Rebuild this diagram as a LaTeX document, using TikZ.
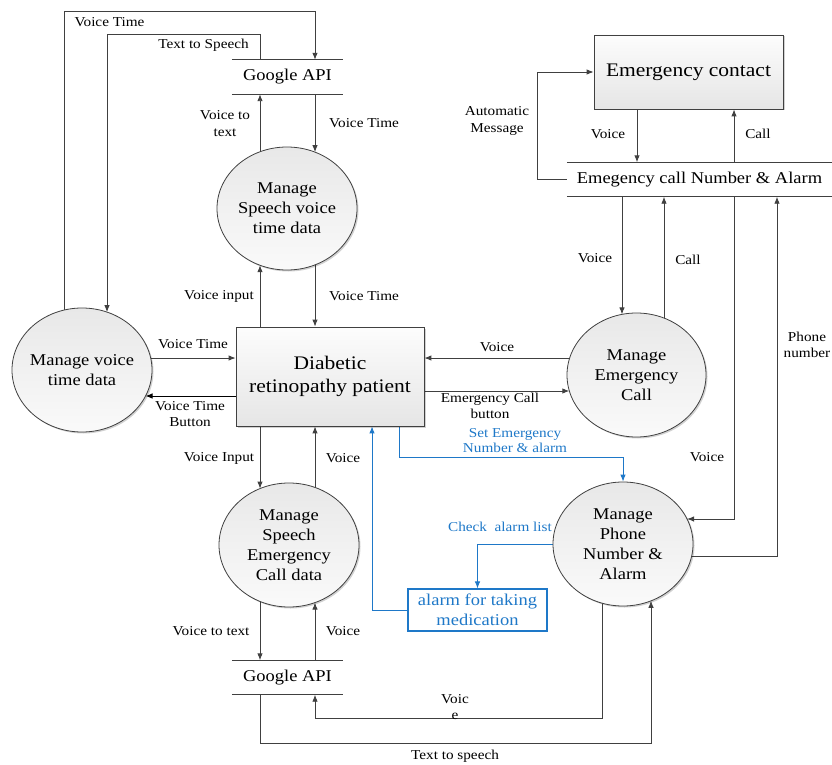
\documentclass[tikz,border=0pt]{standalone}
\usepackage{fontspec}
\setmainfont{Liberation Serif}[FakeStretch=1.12]
\usetikzlibrary{arrows.meta,shapes.geometric,calc,backgrounds,shadows}
\definecolor{ln}{HTML}{404040}
\definecolor{bl}{RGB}{30,120,200}
\begin{document}
\begin{tikzpicture}[x=1pt,y=-1pt,
  lbl/.style={font=\fontsize{13.6}{16.5}\selectfont, align=center, inner sep=0pt, text=black},
  blbl/.style={font=\fontsize{13.6}{15.5}\selectfont, align=center, inner sep=0pt, text=bl},
  con/.style={draw=ln, line width=0.9pt, -{Latex[length=7pt,width=5.5pt]}},
  bcon/.style={draw=bl, line width=0.9pt, -{Latex[length=7pt,width=5.5pt]}},
  plain/.style={draw=ln, line width=0.9pt},
  shd/.style={drop shadow={shadow xshift=1.5pt, shadow yshift=-1.5pt, opacity=0.18, fill=black}},
  circ/.style={ellipse, draw=ln, line width=0.8pt, top color=white!91!black, bottom color=white!98!black,
    minimum width=140pt, minimum height=124pt, inner sep=-10pt, align=center,
    font=\fontsize{16.5}{20}\selectfont, shd},
  ent/.style={rectangle, draw=ln, line width=0.8pt, top color=white!99!black, bottom color=white!90!black,
    inner sep=0pt, align=center, font=\fontsize{19.2}{23}\selectfont, shd},
  store/.style={rectangle, inner sep=0pt, minimum height=34pt, font=\fontsize{16.5}{20}\selectfont},
  alarmbox/.style={rectangle, draw=bl, line width=1.1pt, fill=white, text=bl, inner sep=0pt,
    minimum width=139pt, minimum height=42pt, align=center, font=\fontsize{16.5}{20}\selectfont}
]
\useasboundingbox (0,0) rectangle (832,765);

% lane coordinates
\coordinate (xa) at (260,0);
\coordinate (xb) at (315,0);
\coordinate (xc) at (622,0);
\coordinate (xd) at (664,0);
\coordinate (xe) at (734,0);
\coordinate (xf) at (777,0);
\coordinate (xh) at (637,0);
\coordinate (xi) at (399,0);
\coordinate (xj) at (372,0);
\coordinate (y358) at (0,358);
\coordinate (y396) at (0,396);
\coordinate (y391) at (0,391);
\coordinate (y556) at (0,556);
\coordinate (ybl) at (0,457);
\coordinate (yv) at (0,718);
\coordinate (vt) at (315,11);
\coordinate (tts) at (107,34);
\coordinate (tts2) at (651,743);

% nodes
\node[circ] (mvt) at (82,370) {Manage voice\\time data};
\node[circ, minimum height=123pt] (msv) at (287,208.5) {Manage\\Speech voice\\time data};
\node[circ] (mse) at (289,545) {Manage\\Speech\\Emergency\\Call data};
\node[circ, minimum width=139pt] (mec) at (636.5,375) {Manage\\Emergency\\Call};
\node[circ] (mpn) at (623,544) {Manage\\Phone\\Number \&\\Alarm};
\node[ent, minimum width=188pt, minimum height=99pt] (pat) at (330,376.5) {Diabetic\\retinopathy patient};
\node[ent, minimum width=189pt, minimum height=74pt] (ec) at (688.5,72) {Emergency contact};
\node[alarmbox] (alarm) at (477.5,610) {alarm for taking\\medication};
\node[store, minimum width=111pt] (g1) at (287.5,77) {Google API};
\node[store, minimum width=111pt] (g2) at (287.5,677.5) {Google API};
\node[store, minimum width=265pt] (ecs) at (699.5,179.5) {Emegency call Number \& Alarm};

\foreach \s in {g1,g2,ecs}{
  \draw[plain] (\s.north west) -- (\s.north east);
  \draw[plain] (\s.south west) -- (\s.south east);
}

\begin{pgfonlayer}{background}
% top left loops
\draw[con] ([xshift=-18pt]mvt.center) |- (vt) -- (vt |- g1.north);
\draw[con] (g1.north -| xa) |- (tts) -- ($(mvt.center)+(25,-57.9)$);
% Google API 1 <-> msv
\draw[con] ([xshift=-27pt]msv.center) -- (g1.south -| xa);
\draw[con] (g1.south -| xb) -- ($(msv.center)+(28,-56.4)$);
% msv <-> patient
\draw[con] (pat.north -| xa) -- ($(msv.center)+(-27,56.7)$);
\draw[con] ([xshift=28pt]msv.center) -- (pat.north -| xb);
% mvt <-> patient
\draw[con] (mvt.center |- y358) -- (pat.west |- y358);
\draw[con, draw=black] (pat.west |- y396) -- ($(mvt.center)+(63.5,26)$);
% patient <-> mse
\draw[con] (pat.south -| xa) -- ($(mse.center)+(-29,-56.4)$);
\draw[con] ([xshift=26pt]mse.center) -- (pat.south -| xb);
% mse <-> Google API 2
\draw[con] ([xshift=-29pt]mse.center) -- (g2.north -| xa);
\draw[con] (g2.north -| xb) -- ($(mse.center)+(26,57.6)$);
% mpn <-> Google API 2
\draw[con] ([xshift=-21pt]mpn.center) |- (yv -| xb) -- (g2.south -| xb);
\draw[con] (g2.south -| xa) |- (tts2) -- ($(mpn.center)+(28,56.8)$);
% patient <-> mec
\draw[con] (mec.center |- y358) -- (pat.east |- y358);
\draw[con] (pat.east |- y391) -- ($(mec.center)+(-67.2,16)$);
% ecs <-> mec
\draw[con] (ecs.south -| xc) -- ($(mec.center)+(-14.5,-60.6)$);
\draw[con] ([xshift=27.5pt]mec.center) -- (ecs.south -| xd);
% ecs <-> mpn
\draw[con] (ecs.south -| xe) |- ($(mpn.center)+(64.06,-25)$);
\draw[con] (mpn.center |- y556) -| (ecs.south -| xf);
% ecs <-> ec
\draw[con] (ecs.west) -| ([xshift=-56pt]ec.west) -- (ec.west);
\draw[con] (ec.south -| xh) -- (ecs.north -| xh);
\draw[con] (ecs.north -| xe) -- (ec.south -| xe);
% blue
\draw[bcon] (pat.south -| xi) -- (xi |- ybl) -| (mpn.north);
\draw[bcon] (mpn.center) -| (alarm.north);
\draw[bcon] (alarm.west) -| (pat.south -| xj);
\end{pgfonlayer}

% labels
\node[lbl] (l1) at (109.5,22.5) {Voice Time};
\node[lbl] (l2) at (203.5,45) {Text to Speech};
\node[lbl] (l3) at (225,123.5) {Voice to\\text};
\node[lbl] (l4) at (364,123) {Voice Time};
\node[lbl] (l5) at (219,296) {Voice input};
\node[lbl] (l6) at (364,296) {Voice Time};
\node[lbl] (l7) at (193,344) {Voice Time};
\node[lbl] (l8) at (190,414) {Voice Time\\Button};
\node[lbl] (l9) at (219,458) {Voice Input};
\node[lbl] (l10) at (343,458) {Voice};
\node[lbl] (l11) at (211,631) {Voice to text};
\node[lbl] (l12) at (343,631) {Voice};
\node[lbl] (l13) at (455,707) {Voic\\e};
\node[lbl] (l14) at (455,756) {Text to speech};
\node[lbl] (l15) at (497,121) {Automatic\\Message};
\node[lbl] (l16) at (608,134) {Voice};
\node[lbl] (l17) at (758,134) {Call};
\node[lbl] (l18) at (595,258) {Voice};
\node[lbl] (l19) at (688,260) {Call};
\node[lbl] (l20) at (497,347) {Voice};
\node[lbl] (l21) at (490,406) {Emergency Call\\button};
\node[blbl] (l22) at (515,440.5) {Set Emergency\\Number \& alarm};
\node[lbl] (l23) at (707,457) {Voice};
\node[lbl] (l24) at (807,345) {Phone\\number};
\node[blbl] (l25) at (500,527) {Check\ \ alarm list};
\end{tikzpicture}
\end{document}
